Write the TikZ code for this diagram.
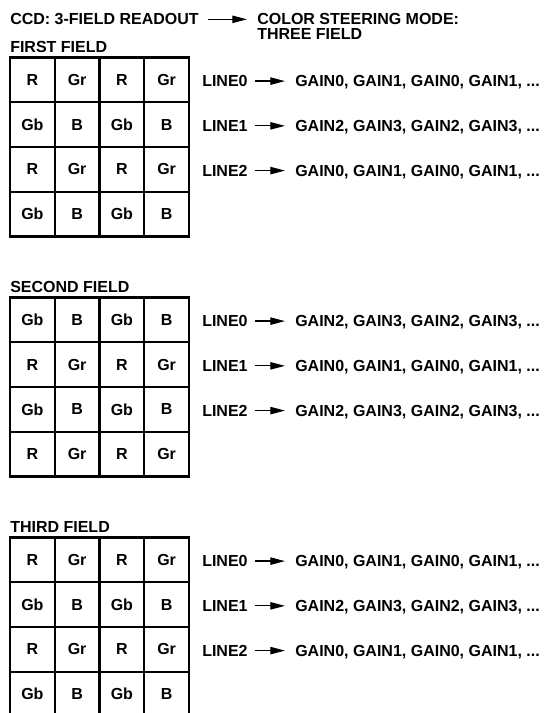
\documentclass[tikz,border=0pt]{standalone}
\usepackage{fontspec}
\setmainfont{Liberation Sans}
\usetikzlibrary{arrows.meta}
\begin{document}
\begin{tikzpicture}[x=0.75pt,y=-0.75pt,
  every node/.style={font=\fontsize{12}{13}\selectfont\bfseries},
  lbl/.style={inner sep=0pt, text height=8.5pt, text depth=0pt},
  cell/.style={draw, line width=1.75pt, minimum width=33.56pt, minimum height=33.56pt, inner sep=0pt},
  arr/.style={line width=0.95pt, -{Triangle[length=11pt,width=5.5pt]}}]
\clip (0,0) rectangle (547,713);
% header
\node[lbl, anchor=base west] (ccd) at (10,25) {CCD: 3-FIELD READOUT};
\node[lbl, anchor=base west] (mode1) at (257,24.5) {COLOR STEERING MODE:};
\node[lbl, anchor=base west] (mode2) at (257,39.5) {THREE FIELD};
\draw[arr] ([xshift=7pt]ccd.east) -- ([xshift=-7.5pt]ccd.east -| mode1.west);
% fields
\foreach \f/\T/\s/\name in {1/57.5/0/FIRST FIELD, 2/297.5/1/SECOND FIELD, 3/537.5/0/THIRD FIELD} {
  \node[lbl, anchor=base west] (title\f) at (10,{\T-5.3}) {\name};
  \foreach \r in {0,...,3} {
    \pgfmathtruncatemacro\p{mod(\r+\s,2)}
    \foreach \c in {0,...,3} {
      \pgfmathtruncatemacro\q{mod(\c,2)}
      \node[cell] (cell-\f-\r-\c) at ({10+44.75*\c+22.375},{\T+44.75*\r+22.375})
        {\raisebox{-1pt}{\ifnum\p=0 \ifnum\q=0 R\else Gr\fi\else\ifnum\q=0 Gb\else B\fi\fi}};
    }
  }
  \foreach \r in {0,1,2} {
    \pgfmathtruncatemacro\p{mod(\r+\s,2)}
    \node[lbl, anchor=west] (line\f\r) at (202,{\T+44.75*\r+23.6}) {LINE\r};
    \node[lbl, anchor=west] (gain\f\r) at (295,{\T+44.75*\r+23.6})
      {\ifnum\p=0 GAIN0, GAIN1, GAIN0, GAIN1, ...\else GAIN2, GAIN3, GAIN2, GAIN3, ...\fi};
    \draw[arr] ([xshift=5.25pt]line\f\r.east) -- ([xshift=-7.5pt]gain\f\r.west);
  }
}
\end{tikzpicture}
\end{document}
